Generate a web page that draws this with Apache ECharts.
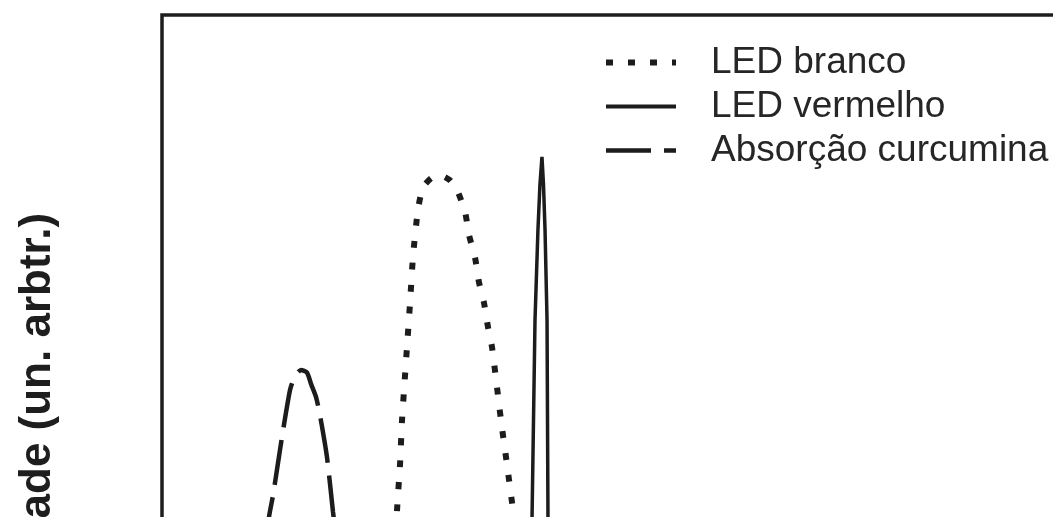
<!DOCTYPE html>
<html>
<head>
<meta charset="utf-8">
<title>Espectros</title>
<script src="https://cdn.jsdelivr.net/npm/echarts@6/dist/echarts.min.js"></script>
<style>
	html, body {
		margin: 0;
		padding: 0;
		overflow: hidden;
		background: #fff;
	}
	#chart {
		width: 1200px;
		height: 900px;
	}
</style>
</head>
<body>
<div id="chart"></div>
<script>
	// comprimento de onda (nm) e intensidade (un. arbtr.)
	var curcuminaX = [339, 366.1, 384.7, 390.7, 394.1, 401.7, 408.5, 412.7, 417.8, 422.9, 426.3, 430.5, 433.9, 439.8, 444.9, 450.8, 463.6, 489];
	var curcuminaY = [0, 19.0, 34.5, 42.3, 44.8, 51.5, 56.9, 58.5, 59.2, 58.9, 57.6, 56.1, 54.0, 49.2, 42.9, 36.2, 19.0, 0];

	var brancoX = [489, 495.8, 499.2, 501.7, 503.4, 507.6, 510.2, 512.7, 516.9, 521.2, 528.8, 537.3, 544.1, 550.0, 556.8, 560.2, 565.3, 568.6, 572.9, 576.3, 579.7, 587.3, 592.4, 597.5, 603.4, 610.2, 624.6];
	var brancoY = [0, 31.0, 43.1, 48.3, 53.4, 61.8, 66.9, 72.2, 77.6, 80.2, 81.3, 81.5, 81.0, 79.9, 77.4, 74.7, 72.1, 69.3, 66.9, 64.1, 61.8, 53.4, 48.3, 43.1, 37.4, 31.0, 0];

	var vermelhoX = [609.3, 611.9, 613.6, 616.1, 618.6, 620.3, 622.0, 623.3, 624.6, 626.3, 627.1, 628.0, 629.7];
	var vermelhoY = [0, 31.0, 42.3, 64.9, 75.3, 80.5, 83.7, 80.5, 75.3, 64.9, 42.3, 31.0, 0];

	var nomes = ['LED branco', 'LED vermelho', 'Absorção curcumina'];

	function pares(xs, ys) {
		return xs.map(function (x, i) { return [x, ys[i]]; });
	}

	var cor = '#1c1c1c';
	var estilos = [
		{ color: cor, width: 6, type: [7, 15] },
		{ color: cor, width: 3.5, type: 'solid' },
		{ color: cor, width: 4.5, type: [45, 13] }
	];

	var chart = echarts.init(document.getElementById('chart'));

	chart.setOption({
		animation: false,
		grid: {
			show: true,
			left: 162,
			top: 15,
			right: 94,
			bottom: 15,
			borderColor: '#1e1e1e',
			borderWidth: 3.5
		},
		legend: {
			data: nomes.map(function (n, i) {
				return { name: n, lineStyle: { color: cor, width: i == 1 ? 4 : estilos[i].width, type: estilos[i].type } };
			}),
			orient: 'vertical',
			left: 598,
			top: 39,
			itemWidth: 70,
			itemHeight: 4,
			itemGap: 7,
			itemStyle: { opacity: 0 },
			textStyle: {
				fontFamily: 'Liberation Sans',
				fontSize: 37,
				color: '#262626',
				padding: [0, 0, 0, 30]
			}
		},
		xAxis: {
			type: 'value',
			min: 300,
			max: 1100,
			show: false
		},
		yAxis: {
			type: 'value',
			min: 0,
			max: 100,
			name: 'Intensidade (un. arbtr.)',
			nameLocation: 'middle',
			nameRotate: 90,
			nameGap: 102,
			nameTextStyle: {
				fontFamily: 'Liberation Sans',
				fontSize: 44,
				fontWeight: 'bold',
				color: '#1e1e1e'
			},
			axisLine: { show: false },
			axisTick: { show: false },
			axisLabel: { show: false },
			splitLine: { show: false }
		},
		series: [
			{
				name: nomes[0],
				type: 'line',
				data: pares(brancoX, brancoY),
				symbol: 'none',
				smooth: 0.2,
				color: cor,
				lineStyle: estilos[0]
			},
			{
				name: nomes[1],
				type: 'line',
				data: pares(vermelhoX, vermelhoY),
				symbol: 'none',
				smooth: false,
				color: cor,
				lineStyle: estilos[1]
			},
			{
				name: nomes[2],
				type: 'line',
				data: pares(curcuminaX, curcuminaY),
				symbol: 'none',
				smooth: 0.2,
				color: cor,
				lineStyle: estilos[2]
			}
		]
	});
</script>
</body>
</html>
